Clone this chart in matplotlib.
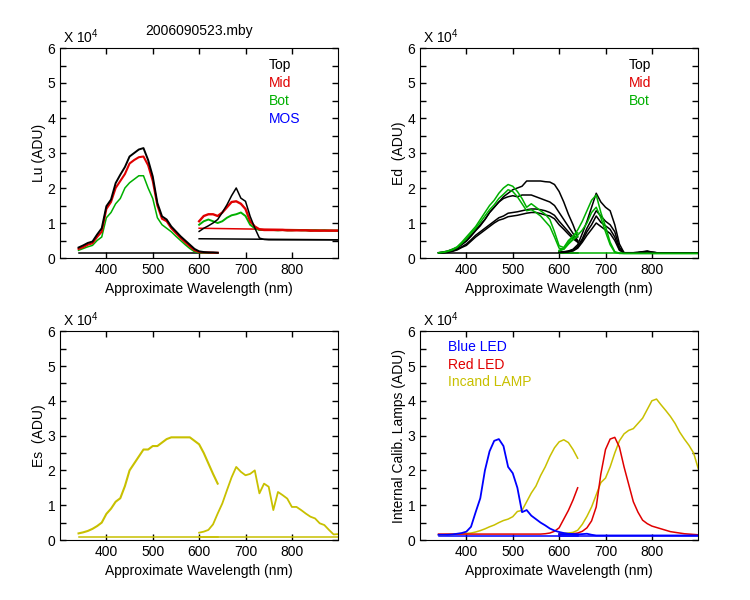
import matplotlib
matplotlib.use("Agg")
import matplotlib.pyplot as plt
from matplotlib.ticker import MultipleLocator
import numpy as np

plt.rcParams['font.family'] = ['Liberation Sans', 'DejaVu Sans']
plt.rcParams['mathtext.default'] = 'regular'
plt.rcParams['font.size'] = 10

# wavelength grids of the two spectrometer channels (nm)
wl_a = np.arange(340, 641, 10)
wl_b = np.arange(600, 901, 10)

# ---- Lu (x 10^4 ADU) ----
lu_top_a = [0.30, 0.36, 0.43, 0.47, 0.67, 0.85, 1.48, 1.67, 2.14, 2.38, 2.60, 2.90, 3.00, 3.10, 3.14, 2.80,
            2.33, 1.57, 1.19, 1.10, 0.90, 0.76, 0.62, 0.50, 0.38, 0.26, 0.19, 0.17, 0.16, 0.16, 0.15]
lu_mid_a = [0.26, 0.31, 0.38, 0.42, 0.60, 0.75, 1.40, 1.60, 2.00, 2.20, 2.40, 2.70, 2.80, 2.88, 2.90, 2.65,
            2.20, 1.50, 1.12, 1.05, 0.85, 0.71, 0.57, 0.45, 0.33, 0.22, 0.17, 0.16, 0.16, 0.15, 0.15]
lu_bot_a = [0.22, 0.27, 0.32, 0.36, 0.50, 0.60, 1.15, 1.30, 1.55, 1.70, 2.00, 2.15, 2.25, 2.35, 2.35, 2.00,
            1.70, 1.15, 0.95, 0.85, 0.75, 0.62, 0.50, 0.38, 0.27, 0.18, 0.15, 0.15, 0.15, 0.15, 0.15]
lu_top_b = [0.76, 0.85, 0.92, 1.00, 1.10, 1.30, 1.52, 1.78, 2.00, 1.71, 1.62, 1.19, 0.86, 0.57, 0.53, 0.52,
            0.52, 0.52, 0.52, 0.52, 0.52, 0.52, 0.52, 0.52, 0.52, 0.52, 0.52, 0.52, 0.52, 0.52, 0.52]
lu_mid_b = [1.05, 1.20, 1.25, 1.25, 1.20, 1.30, 1.45, 1.60, 1.62, 1.55, 1.40, 1.05, 0.90, 0.82, 0.80, 0.80,
            0.80, 0.80, 0.80, 0.79, 0.79, 0.79, 0.79, 0.79, 0.78, 0.78, 0.78, 0.78, 0.78, 0.78, 0.78]
lu_bot_b = [0.95, 1.05, 1.10, 1.05, 1.00, 1.05, 1.15, 1.22, 1.25, 1.30, 1.20, 0.95, 0.85, 0.80, 0.80, 0.80,
            0.80, 0.79, 0.80, 0.79, 0.79, 0.80, 0.79, 0.79, 0.78, 0.79, 0.78, 0.79, 0.78, 0.78, 0.78]
lu_dark_top_a = [0.15, 0.15]
lu_dark_top_b = [0.55, 0.52]
lu_dark_mid_b = [0.85, 0.79]

# ---- Ed ----
ed_top1_a = [0.15, 0.17, 0.20, 0.25, 0.30, 0.40, 0.50, 0.65, 0.80, 0.95, 1.10, 1.30, 1.45, 1.60, 1.75, 1.85,
             1.95, 2.00, 2.05, 2.20, 2.20, 2.20, 2.20, 2.18, 2.17, 2.10, 1.90, 1.60, 1.25, 0.95, 0.60]
ed_top2_a = [0.15, 0.16, 0.18, 0.22, 0.28, 0.38, 0.48, 0.62, 0.78, 0.92, 1.10, 1.30, 1.45, 1.60, 1.70, 1.75,
             1.78, 1.75, 1.80, 1.80, 1.80, 1.75, 1.70, 1.65, 1.60, 1.50, 1.30, 1.10, 0.90, 0.70, 0.50]
ed_top3_a = [0.15, 0.15, 0.17, 0.20, 0.25, 0.32, 0.40, 0.52, 0.65, 0.75, 0.85, 0.95, 1.05, 1.15, 1.20, 1.28,
             1.30, 1.32, 1.35, 1.38, 1.40, 1.40, 1.38, 1.35, 1.30, 1.22, 1.05, 0.90, 0.75, 0.60, 0.48]
ed_top4_a = [0.15, 0.15, 0.16, 0.19, 0.23, 0.30, 0.36, 0.48, 0.60, 0.70, 0.80, 0.90, 1.00, 1.08, 1.12, 1.18,
             1.20, 1.22, 1.25, 1.28, 1.30, 1.30, 1.27, 1.23, 1.20, 1.12, 0.95, 0.82, 0.68, 0.55, 0.45]
ed_bot1_a = [0.15, 0.17, 0.20, 0.25, 0.32, 0.45, 0.60, 0.75, 0.90, 1.10, 1.30, 1.50, 1.65, 1.85, 2.00, 2.10,
             2.05, 1.90, 1.70, 1.45, 1.55, 1.45, 1.35, 1.25, 1.10, 0.75, 0.35, 0.30, 0.50, 0.62, 0.72]
ed_bot2_a = [0.15, 0.16, 0.19, 0.23, 0.30, 0.42, 0.55, 0.70, 0.85, 1.02, 1.20, 1.38, 1.52, 1.70, 1.82, 1.95,
             1.90, 1.75, 1.55, 1.35, 1.38, 1.30, 1.20, 1.05, 0.90, 0.60, 0.28, 0.25, 0.40, 0.52, 0.62]
ed_top1_b = [0.17, 0.18, 0.20, 0.25, 0.38, 0.70, 1.05, 1.45, 1.85, 1.60, 1.45, 1.35, 0.95, 0.40, 0.15, 0.15,
             0.15, 0.16, 0.18, 0.20, 0.17, 0.15, 0.14, 0.14, 0.14, 0.14, 0.14, 0.14, 0.14, 0.14, 0.14]
ed_top2_b = [0.16, 0.17, 0.19, 0.23, 0.33, 0.55, 0.85, 1.10, 1.35, 1.20, 1.05, 0.95, 0.75, 0.30, 0.15, 0.15,
             0.15, 0.16, 0.17, 0.19, 0.16, 0.15, 0.14, 0.14, 0.14, 0.14, 0.14, 0.14, 0.14, 0.14, 0.14]
ed_top3_b = [0.16, 0.17, 0.18, 0.22, 0.30, 0.50, 0.75, 0.95, 1.20, 1.02, 0.92, 0.82, 0.60, 0.25, 0.15, 0.15,
             0.15, 0.15, 0.17, 0.18, 0.16, 0.15, 0.14, 0.14, 0.14, 0.14, 0.14, 0.14, 0.14, 0.14, 0.14]
ed_top4_b = [0.16, 0.16, 0.18, 0.20, 0.28, 0.45, 0.65, 0.82, 1.00, 0.90, 0.80, 0.70, 0.50, 0.22, 0.15, 0.15,
             0.15, 0.15, 0.16, 0.18, 0.16, 0.15, 0.14, 0.14, 0.14, 0.14, 0.14, 0.14, 0.14, 0.14, 0.14]
ed_bot1_b = [0.22, 0.28, 0.45, 0.62, 0.80, 1.05, 1.35, 1.65, 1.80, 1.30, 0.90, 0.45, 0.18, 0.14, 0.13, 0.13,
             0.13, 0.13, 0.13, 0.13, 0.13, 0.13, 0.13, 0.13, 0.13, 0.13, 0.13, 0.13, 0.13, 0.13, 0.13]
ed_bot2_b = [0.20, 0.25, 0.40, 0.55, 0.65, 0.80, 1.00, 1.30, 1.45, 1.15, 0.75, 0.38, 0.16, 0.13, 0.13, 0.13,
             0.13, 0.13, 0.13, 0.13, 0.13, 0.13, 0.13, 0.13, 0.13, 0.13, 0.13, 0.13, 0.13, 0.13, 0.13]
ed_dark = [0.13, 0.13]

# ---- Es ----
es_a = [0.19, 0.22, 0.26, 0.32, 0.40, 0.50, 0.75, 0.90, 1.10, 1.20, 1.55, 2.00, 2.20, 2.40, 2.60, 2.60,
        2.70, 2.70, 2.80, 2.90, 2.95, 2.95, 2.95, 2.95, 2.95, 2.85, 2.75, 2.50, 2.20, 1.90, 1.62]
es_b = [0.21, 0.24, 0.29, 0.45, 0.76, 1.05, 1.43, 1.80, 2.10, 1.96, 1.86, 1.90, 2.00, 1.34, 1.62, 1.53,
        0.86, 1.38, 1.29, 1.19, 0.95, 0.95, 0.86, 0.76, 0.67, 0.62, 0.48, 0.43, 0.29, 0.16, 0.17]
es_dark = [0.10, 0.10]

# ---- internal calibration lamps ----
blue_a = [0.15, 0.15, 0.15, 0.16, 0.18, 0.20, 0.24, 0.38, 0.80, 1.20, 2.00, 2.55, 2.85, 2.90, 2.70, 2.10,
          1.92, 1.50, 0.80, 0.86, 0.70, 0.60, 0.50, 0.42, 0.33, 0.27, 0.23, 0.20, 0.18, 0.17, 0.16]
blue_b = [0.17, 0.17, 0.17, 0.16, 0.16, 0.17, 0.18, 0.15, 0.13, 0.13, 0.13, 0.13, 0.13, 0.13, 0.13, 0.13,
          0.13, 0.13, 0.13, 0.13, 0.13, 0.13, 0.13, 0.13, 0.13, 0.13, 0.13, 0.13, 0.13, 0.13, 0.13]
red_a = [0.17, 0.17, 0.17, 0.17, 0.17, 0.17, 0.17, 0.17, 0.17, 0.17, 0.17, 0.17, 0.17, 0.17, 0.17, 0.17,
         0.17, 0.17, 0.17, 0.17, 0.17, 0.17, 0.17, 0.18, 0.20, 0.25, 0.35, 0.60, 0.85, 1.15, 1.50]
red_b = [0.16, 0.17, 0.17, 0.18, 0.20, 0.25, 0.35, 0.55, 0.95, 1.90, 2.60, 2.90, 2.95, 2.67, 2.10, 1.60,
         1.10, 0.80, 0.57, 0.47, 0.40, 0.36, 0.32, 0.28, 0.24, 0.22, 0.20, 0.18, 0.17, 0.16, 0.15]
lamp_a = [0.15, 0.15, 0.16, 0.16, 0.17, 0.18, 0.19, 0.20, 0.23, 0.27, 0.32, 0.38, 0.43, 0.50, 0.56, 0.60,
          0.67, 0.82, 0.85, 1.10, 1.35, 1.55, 1.85, 2.10, 2.40, 2.65, 2.82, 2.88, 2.80, 2.60, 2.35]
lamp_b = [0.18, 0.19, 0.20, 0.22, 0.28, 0.45, 0.68, 0.95, 1.30, 1.65, 1.78, 2.10, 2.50, 2.85, 3.05, 3.15,
          3.20, 3.35, 3.50, 3.75, 4.00, 4.05, 3.88, 3.72, 3.55, 3.35, 3.10, 2.90, 2.72, 2.50, 2.05]
blue_dark = [0.12, 0.12]

BLACK, RED, GREEN, BLUE, OLIVE = 'black', '#e00000', '#00b000', '#0000ff', '#c8c000'
LW = 1.1
FS = 10


def style_axes(ax, ylabel):
    ax.set_xlim(300, 900)
    ax.set_ylim(0, 6)
    ax.xaxis.set_major_locator(MultipleLocator(100))
    ax.yaxis.set_major_locator(MultipleLocator(1))
    ax.yaxis.set_minor_locator(MultipleLocator(0.5))
    ax.tick_params(which='both', direction='in', top=True, right=True, length=4, width=1, labelsize=FS)
    ax.set_xticks([400, 500, 600, 700, 800])
    ax.set_xlabel('Approximate Wavelength (nm)', fontsize=FS)
    ax.set_ylabel(ylabel, fontsize=FS, labelpad=1)
    ax.text(0.01, 1.01, 'X 10$^4$', transform=ax.transAxes, fontsize=FS, ha='left', va='bottom')


def dark(ax, x0, x1, levels, color):
    ax.plot([x0, x1], levels, color=color, lw=LW)


fig = plt.figure(figsize=(7.5, 6), dpi=100)
ax1 = fig.add_axes([0.08, 0.57, 0.371, 0.35])
ax2 = fig.add_axes([0.56, 0.57, 0.371, 0.35])
ax3 = fig.add_axes([0.08, 0.10, 0.371, 0.348])
ax4 = fig.add_axes([0.56, 0.10, 0.371, 0.348])

# Lu
dark(ax1, 340, 640, lu_dark_top_a, BLACK)
dark(ax1, 600, 900, lu_dark_top_b, BLACK)
dark(ax1, 600, 900, lu_dark_mid_b, RED)
ax1.plot(wl_a, lu_bot_a, color=GREEN, lw=LW)
ax1.plot(wl_a, lu_mid_a, color=RED, lw=LW + 0.4)
ax1.plot(wl_a, lu_top_a, color=BLACK, lw=LW + 0.3)
ax1.plot(wl_b, lu_bot_b, color=GREEN, lw=LW + 0.3)
ax1.plot(wl_b, lu_mid_b, color=RED, lw=LW + 0.6)
ax1.plot(wl_b, lu_top_b, color=BLACK, lw=LW)
style_axes(ax1, 'Lu (ADU)')
ax1.set_title('2006090523.mby', fontsize=FS, pad=9)
for i, (lab, col) in enumerate([('Top', BLACK), ('Mid', RED), ('Bot', GREEN), ('MOS', BLUE)]):
    ax1.text(0.75, 0.92 - 0.086 * i, lab, color=col, transform=ax1.transAxes, va='center', fontsize=FS)

# Ed
dark(ax2, 340, 640, ed_dark, BLACK)
dark(ax2, 600, 900, ed_dark, GREEN)
for ys in (ed_top1_a, ed_top2_a, ed_top3_a, ed_top4_a):
    ax2.plot(wl_a, ys, color=BLACK, lw=LW)
for ys in (ed_top1_b, ed_top2_b, ed_top3_b, ed_top4_b):
    ax2.plot(wl_b, ys, color=BLACK, lw=LW)
for ys in (ed_bot1_a, ed_bot2_a):
    ax2.plot(wl_a, ys, color=GREEN, lw=LW)
for ys in (ed_bot1_b, ed_bot2_b):
    ax2.plot(wl_b, ys, color=GREEN, lw=LW)
style_axes(ax2, 'Ed  (ADU)')
for i, (lab, col) in enumerate([('Top', BLACK), ('Mid', RED), ('Bot', GREEN)]):
    ax2.text(0.75, 0.92 - 0.086 * i, lab, color=col, transform=ax2.transAxes, va='center', fontsize=FS)

# Es
dark(ax3, 340, 640, es_dark, OLIVE)
dark(ax3, 600, 900, es_dark, OLIVE)
ax3.plot(wl_a, es_a, color=OLIVE, lw=LW + 0.4)
ax3.plot(wl_b, es_b, color=OLIVE, lw=LW + 0.2)
style_axes(ax3, 'Es  (ADU)')

# internal calibration lamps
dark(ax4, 340, 640, blue_dark, BLUE)
dark(ax4, 600, 900, blue_dark, BLUE)
ax4.plot(wl_a, lamp_a, color=OLIVE, lw=LW)
ax4.plot(wl_b, lamp_b, color=OLIVE, lw=LW)
ax4.plot(wl_a, red_a, color=RED, lw=LW)
ax4.plot(wl_b, red_b, color=RED, lw=LW)
ax4.plot(wl_a, blue_a, color=BLUE, lw=LW + 0.2)
ax4.plot(wl_b, blue_b, color=BLUE, lw=LW + 0.2)
style_axes(ax4, 'Internal Calib. Lamps (ADU)')
for i, (lab, col) in enumerate([('Blue LED', BLUE), ('Red LED', RED), ('Incand LAMP', OLIVE)]):
    ax4.text(0.10, 0.923 - 0.084 * i, lab, color=col, transform=ax4.transAxes, va='center', fontsize=FS)

fig.savefig('out.png', dpi=100)
